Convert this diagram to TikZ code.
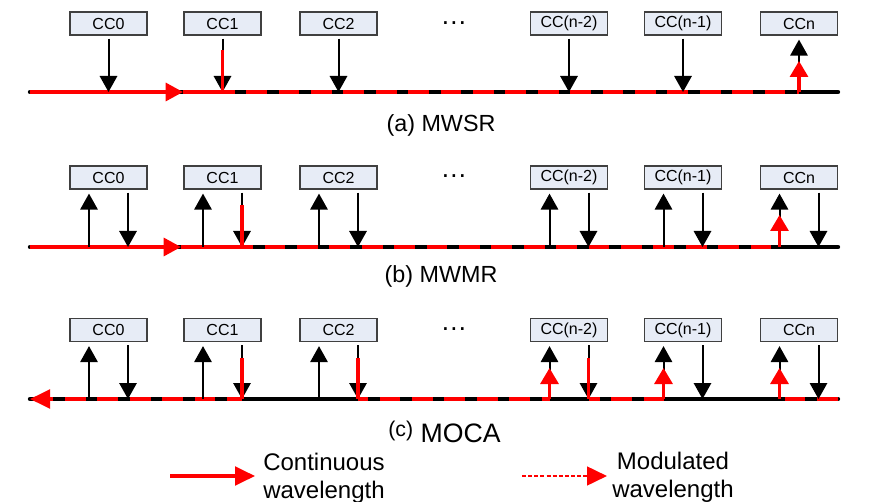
\documentclass[tikz,border=0pt]{standalone}
\usepackage{fontspec}
\setmainfont{Liberation Sans}
\usetikzlibrary{arrows.meta}

\definecolor{boxfill}{RGB}{231,236,246}
\definecolor{boxline}{RGB}{64,64,64}
\definecolor{sigred}{RGB}{255,0,0}

\begin{document}
\begin{tikzpicture}[x=0.75pt,y=-0.75pt,
  ccbox/.style={draw=boxline, fill=boxfill, line width=0.9pt,
    minimum width=57.75pt, minimum height=17.25pt, inner sep=0pt,
    font=\fontsize{12}{14}\selectfont},
  dotsnode/.style={inner sep=0pt, anchor=base, font=\fontsize{20}{24}\selectfont},
  caption/.style={inner sep=0pt, anchor=base, font=\fontsize{17.5}{20}\selectfont},
  legendtext/.style={inner sep=0pt, anchor=north, align=center,
    font=\fontsize{18}{21}\selectfont},
  sigdown/.style={line width=1.5pt, -{Triangle[length=12pt,width=13pt]},
    shorten <=2.25pt},
  sigup/.style={line width=1.5pt, -{Triangle[length=12pt,width=13pt]},
    shorten >=3pt},
  redseg/.style={sigred, line width=2.3pt},
  redup/.style={sigred, line width=2.3pt, -{Triangle[length=12pt,width=13.5pt]}},
  track/.style={line width=3.3pt, line cap=round},
  redtrack/.style={sigred, line width=2.4pt},
  moddash/.style={redtrack, dash pattern=on 15.6pt off 8.7pt},
  maintip/.style={-{Triangle[length=13pt,width=13.5pt]}},
]
\useasboundingbox (0,0) rectangle (874,502);

% ---------- boxes of the three rows ----------
\foreach \r/\y in {a/23.5,b/177.5,c/330} {
  \foreach \i/\c/\t in {0/108.5/CC0,1/222.5/CC1,2/338.5/CC2,
                        3/569/CC(n-2),4/683/CC(n-1),5/799/CCn} {
    \node[ccbox] (\r\i) at (\c,\y) {\t};
  }
}
\node[dotsnode] (adots) at (454,24.5) {…};
\node[dotsnode] (bdots) at (454,177.5) {…};
\node[dotsnode] (cdots) at (454,330.5) {…};

% ---------- (a) MWSR ----------
\coordinate (aL) at (30,92);
\coordinate (aR) at (838,92);
\coordinate (aM) at (183,92);
\foreach \i in {0,...,5} { \coordinate (ad\i) at (a\i |- aL); }

\draw[track] (aL) -- (aR);
\draw[redtrack, maintip] (aL) -- (aM);
\draw[redtrack] (aM) -- (ad1);
\draw[moddash, dash phase=6.5pt] (ad1) -- (ad5);

\foreach \i in {0,...,4} { \draw[sigdown] (a\i.south) -- (ad\i); }
\draw[sigup] (ad5) -- (a5.south);
\draw[redseg] (ad1) -- ++(0,-42);
\draw[redup] (ad5) -- ++(0,-31);

\node[caption] (capA) at (441,132) {(a) MWSR};

% ---------- (b) MWMR ----------
\coordinate (bL) at (30,247);
\coordinate (bR) at (838,247);
\coordinate (bM) at (181,247);
\foreach \i/\c in {0/108.5,1/222.5,2/338.5,3/569,4/683,5/799} {
  \coordinate (bu\i) at (\c-19.5,247);
  \coordinate (bd\i) at (\c+19.5,247);
}

\draw[track] (bL) -- (bR);
\draw[redtrack, maintip] (bL) -- (bM);
\draw[redtrack] (bM) -- (bd1);
\draw[moddash, dash phase=7.3pt] (bd1) -- (bu5);

\foreach \i in {0,...,5} {
  \draw[sigdown] (b\i.south -| bd\i) -- (bd\i);
  \draw[sigup] (bu\i) -- (b\i.south -| bu\i);
}
\draw[redseg] (bd1) -- ++(0,-42);
\draw[redup] (bu5) -- ++(0,-32);

\node[caption] (capB) at (441,282) {(b) MWMR};

% ---------- (c) MOCA ----------
\coordinate (cL) at (30,399);
\coordinate (cR) at (838,399);
\foreach \i/\c in {0/108.5,1/222.5,2/338.5,3/569,4/683,5/799} {
  \coordinate (cu\i) at (\c-19.5,399);
  \coordinate (cd\i) at (\c+19.5,399);
}

\draw[track] (cL) -- (cR);
\draw[moddash, dash phase=4.35pt, -{Triangle[length=15pt,width=14pt]}] (cd1) -- (cL);
\draw[moddash, dash phase=8.1pt] (cd2) -- (cu3);
\draw[moddash, dash phase=7.35pt] (cd3) -- (cu4);
\draw[moddash, dash phase=20.55pt] (cu5) -- (cR);

\foreach \i in {0,...,5} {
  \draw[sigdown] (c\i.south -| cd\i) -- (cd\i);
  \draw[sigup] (cu\i) -- (c\i.south -| cu\i);
}
\foreach \i in {1,2,3} { \draw[redseg] (cd\i) -- ++(0,-41); }
\foreach \i in {3,4,5} { \draw[redup] (cu\i) -- ++(0,-31); }

\node[inner sep=0pt, anchor=base, font=\fontsize{20}{24}\selectfont] (capC) at (444.5,442)
  {\raisebox{4.5pt}{\fontsize{16}{19}\selectfont (c)} MOCA};

% ---------- legend ----------
\coordinate (lgAs) at (170,476);
\coordinate (lgAe) at (255,476);
\coordinate (lgBs) at (522,476);
\coordinate (lgBe) at (607,476);
\draw[sigred, line width=2.3pt, -{Triangle[length=15pt,width=14pt]}] (lgAs) -- (lgAe);
\draw[sigred, line width=2pt, dash pattern=on 3pt off 1.6pt,
  -{Triangle[length=15pt,width=14pt]}] (lgBs) -- (lgBe);
\node[legendtext] (lgAt) at (324,452.5) {Continuous\\wavelength};
\node[legendtext] (lgBt) at (673,452) {Modulated\\wavelength};
\end{tikzpicture}
\end{document}
